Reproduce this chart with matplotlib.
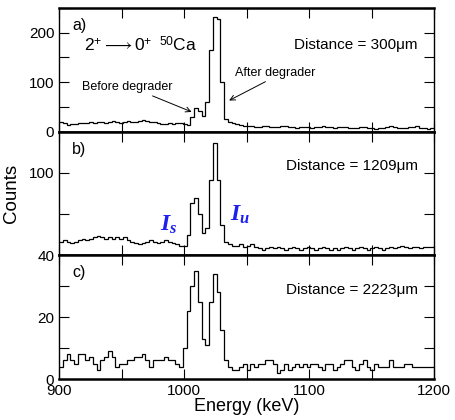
import numpy as np
import matplotlib.pyplot as plt

plt.rcParams['font.family'] = ['Liberation Sans', 'DejaVu Sans']
plt.rcParams['mathtext.fontset'] = 'custom'
plt.rcParams['mathtext.rm'] = 'Liberation Sans'
plt.rcParams['mathtext.it'] = 'Liberation Serif:italic:bold'
plt.rcParams['mathtext.bf'] = 'Liberation Sans:bold'

# 3 keV bins from 900 to 1200 keV
bin_lo = 900
bin_w = 3

counts_a = [20, 18, 13, 15, 16, 17, 18, 17, 19, 18, 20, 19, 17, 20, 22, 19, 18, 20, 21, 19,
            20, 22, 23, 21, 19, 20, 17, 15, 16, 17, 16, 18, 17, 15, 14, 30, 47, 42, 31, 60,
            165, 232, 228, 100, 26, 20, 17, 15, 13, 12, 12, 11, 10, 10, 11, 12, 10, 9, 10, 12,
            11, 10, 9, 8, 9, 10, 9, 8, 9, 10, 11, 10, 9, 8, 9, 10, 9, 8, 7, 8,
            9, 10, 8, 7, 6, 7, 8, 10, 12, 9, 8, 7, 8, 9, 10, 11, 8, 7, 6, 7]

counts_b = [50, 51, 50, 49, 50, 51, 52, 51, 52, 53, 54, 53, 52, 53, 52, 53, 52, 53, 51, 50,
            49, 48, 49, 50, 51, 50, 49, 50, 51, 50, 49, 48, 47, 47, 55, 78, 82, 70, 56, 60,
            95, 122, 95, 62, 50, 48, 47, 47, 48, 46, 47, 48, 46, 45, 44, 45, 46, 45, 46, 45,
            44, 45, 46, 45, 44, 45, 46, 45, 44, 45, 46, 45, 44, 45, 44, 45, 46, 45, 44, 45,
            46, 45, 44, 45, 46, 45, 44, 45, 46, 45, 46, 47, 46, 45, 46, 46, 45, 46, 46, 46]

counts_c = [4, 6, 8, 6, 5, 8, 8, 6, 7, 5, 3, 6, 7, 9, 7, 4, 5, 5, 6, 6,
            7, 7, 8, 6, 4, 6, 6, 6, 7, 6, 6, 5, 4, 10, 22, 30, 35, 25, 13, 11,
            25, 34, 28, 16, 6, 4, 3, 3, 4, 5, 3, 5, 4, 5, 5, 6, 6, 5, 2, 3,
            5, 3, 4, 5, 4, 5, 4, 5, 5, 4, 3, 5, 5, 3, 4, 5, 6, 6, 4, 3,
            5, 6, 4, 3, 5, 4, 4, 4, 6, 4, 4, 4, 5, 5, 4, 4, 4, 4, 4, 4]

panels = ['a)', 'b)', 'c)']
distances = ['Distance = 300\u03bcm', 'Distance = 1209\u03bcm', 'Distance = 2223\u03bcm']
ylims = [(0, 250), (40, 130), (0, 40)]
yticks = [[0, 100, 200], [40, 100], [0, 20]]
yminor = [[50, 150, 250], [70, 130], [10, 30]]

edges = bin_lo + bin_w * np.arange(len(counts_a) + 1)

fig = plt.figure(figsize=(4.55, 4.2), dpi=100)
left, right, bottom, top = 0.130, 0.954, 0.0976, 0.981
h = (top - bottom) / 3

axes = []
for k, counts in enumerate([counts_a, counts_b, counts_c]):
    ax = fig.add_axes([left, top - (k + 1) * h, right - left, h])
    ax.stairs(counts, edges, color='black', lw=0.9, baseline=None)
    ax.set_xlim(900, 1200)
    ax.set_ylim(*ylims[k])
    ax.set_xticks([900, 1000, 1100, 1200])
    ax.set_xticks([950, 1050, 1150], minor=True)
    ax.set_yticks(yticks[k])
    ax.set_yticks(yminor[k], minor=True)
    ax.tick_params(which='both', direction='in', top=True, right=True, labelsize=11)
    ax.tick_params(which='both', length=7, width=0.8)
    if k < 2:
        ax.tick_params(labelbottom=False)
    for s in ax.spines.values():
        s.set_linewidth(1.0)
    ax.spines['bottom'].set_linewidth(1.8)
    ax.spines['top'].set_linewidth(1.8)
    ax.text(0.035, 0.92, panels[k], transform=ax.transAxes, fontsize=11.5, va='top')
    ax.text(0.957, 0.70 if k == 0 else 0.72, distances[k], transform=ax.transAxes,
            fontsize=11, ha='right', va='center')
    axes.append(ax)

ax = axes[0]
ax.text(0.065, 0.70, r'$2^{+}\longrightarrow 0^{+}\;\;^{50}\mathrm{Ca}$', transform=ax.transAxes,
        fontsize=12.5, va='center')
ax.annotate('Before degrader', xy=(1006, 40), xytext=(0.062, 0.36), textcoords='axes fraction',
            fontsize=9, va='center',
            arrowprops=dict(arrowstyle='->', color='black', lw=0.7, shrinkA=0, shrinkB=0,
                            relpos=(0.7, 0.0)))
ax.annotate('After degrader', xy=(1036, 63), xytext=(0.468, 0.475), textcoords='axes fraction',
            fontsize=9, va='center',
            arrowprops=dict(arrowstyle='->', color='black', lw=0.7, shrinkA=0, shrinkB=0,
                            relpos=(0.45, 0.0)))

ax = axes[1]
ax.text(0.27, 0.25, r'$I_s$', transform=ax.transAxes, color='#2020ee',
        fontsize=17, va='center')
ax.text(0.455, 0.33, r'$I_u$', transform=ax.transAxes, color='#2020ee',
        fontsize=17, va='center')
ax.set_ylabel('Counts', fontsize=13.5, labelpad=6)

axes[2].set_xlabel('Energy (keV)', fontsize=13, labelpad=0)

fig.savefig('out.png', dpi=100)
